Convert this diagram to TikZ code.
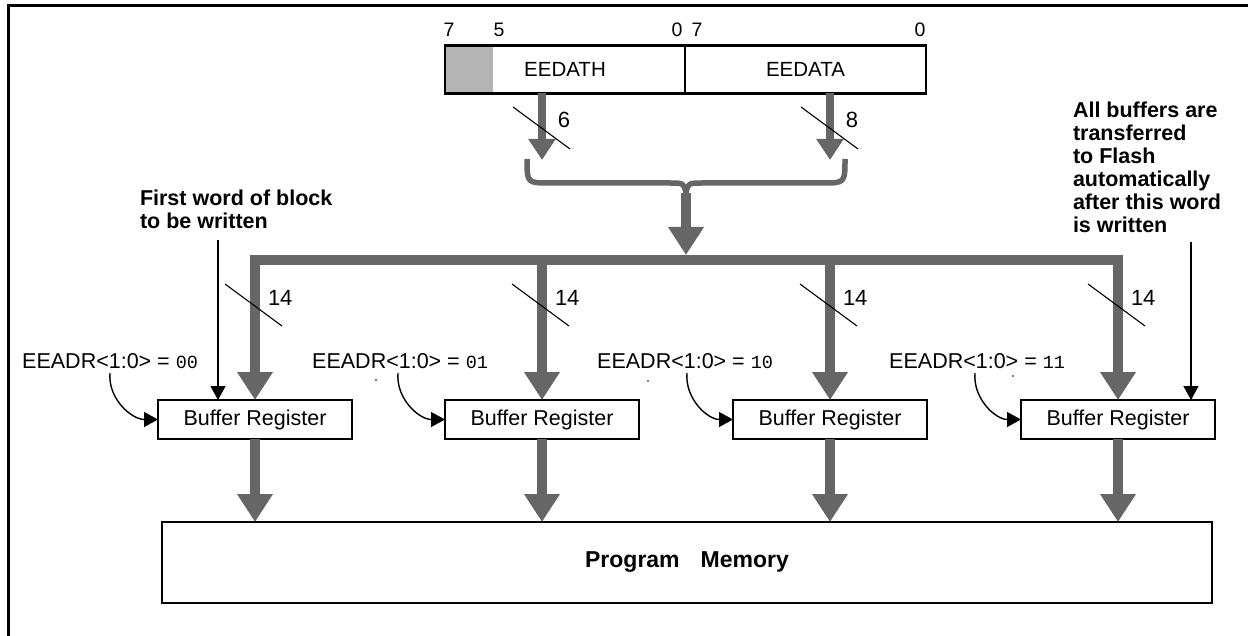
\documentclass[tikz,border=0pt]{standalone}
\usepackage{fontspec}
\setmainfont{Liberation Sans}
\setmonofont{Liberation Mono}
\usetikzlibrary{arrows.meta,calc}
\definecolor{busgray}{RGB}{102,102,102}
\definecolor{fieldgray}{RGB}{180,180,180}
\newcommand\addrbits[1]{{\ttfamily\fontsize{18.5}{21}\selectfont #1}}
\begin{document}
\begin{tikzpicture}[x=1pt, y=-1pt,
  every node/.style={inner sep=0pt, outer sep=0pt},
  regbox/.style={draw, line width=2.6pt, minimum height=47.6pt, font=\fontsize{20.5}{24}\selectfont},
  bufbox/.style={draw, line width=2.6pt, minimum width=194pt, minimum height=39pt, font=\fontsize{21.5}{25}\selectfont},
  pmbox/.style={draw, line width=2.8pt, minimum width=1050pt, minimum height=81pt, font=\bfseries\fontsize{23}{27}\selectfont},
  bitlabel/.style={font=\fontsize{19.5}{23}\selectfont, anchor=base},
  widthlabel/.style={font=\fontsize{22}{26}\selectfont},
  addrlabel/.style={font=\fontsize{21.5}{25}\selectfont, anchor=base east},
  note/.style={font=\bfseries\fontsize{21.5}{23}\selectfont, align=left, anchor=base west},
  bus/.style={draw=busgray, line width=10pt},
  busarrow/.style={draw=busgray, line width=10pt, -{Triangle[width=34pt,length=28pt]}},
  regarrow/.style={draw=busgray, line width=8pt, -{Triangle[width=26pt,length=21pt]}},
  brace/.style={draw=busgray, line width=5.5pt, line cap=butt, line join=round},
  ptr/.style={draw=black, line width=1.4pt, -{Triangle[width=15pt,length=14pt]}},
  tick/.style={draw=black, line width=1.1pt},
]
\useasboundingbox (0,0) rectangle (1248,636);

% outer frame (top and left edges)
\draw[line width=3pt, line join=miter] (1252,5.5) -- (8,5.5) -- (8,640);

% data registers
\fill[fieldgray] (445,45.7) rectangle (493,93.3);
\node[regbox, minimum width=240pt] (eedath) at (565,69.5) {EEDATH};
\node[regbox, minimum width=241pt] (eedata) at (805.5,69.5) {EEDATA};

% bit numbers
\node[bitlabel] (bh7) at (449,37) {7};
\node[bitlabel] (bh5) at (499,37) {5};
\node[bitlabel] (bh0) at (677,37) {0};
\node[bitlabel] (bl7) at (697,37) {7};
\node[bitlabel] (bl0) at (920,37) {0};

% buffer registers and program memory
\node[bufbox] (b1) at (255,419.5) {Buffer Register};
\node[bufbox] (b2) at (542,419.5) {Buffer Register};
\node[bufbox] (b3) at (830,419.5) {Buffer Register};
\node[bufbox] (b4) at (1118,419.5) {Buffer Register};
\node[pmbox] (pm) at (687,562.5) {Program\hspace{21pt}Memory};

% brace joining the two register outputs
\coordinate (bl) at (527,159);
\coordinate (br) at (845,159);
\coordinate (bc) at (686,193);
\draw[brace] (bl) .. controls (527,183) .. (550,183) -- (668,183)
  .. controls (684,183) .. (bc)
  .. controls (688,183) .. (704,183) -- (822,183)
  .. controls (845,183) .. (br);

% register outputs into the brace
\draw[regarrow] (b2.north |- eedath.south) -- ([yshift=-1pt]b2.north |- bl);
\draw[regarrow] (b3.north |- eedata.south) -- ([yshift=-1pt]b3.north |- br);
\draw[tick] (513,107) -- (570,149);
\draw[tick] (801,107) -- (858,149);
\node[widthlabel, anchor=base] (w6) at (564,128) {6};
\node[widthlabel, anchor=base] (w8) at (852,128) {8};

% 14-bit bus
\coordinate (busY) at (0,260);
\draw[busarrow] (bc) -- ([yshift=5pt]bc |- busY);
\draw[bus] ([xshift=-5pt]b1.north |- busY) -- ([xshift=5pt]b4.north |- busY);
\foreach \b in {b1,b2,b3,b4}{
  \draw[busarrow] ([yshift=5pt]\b.north |- busY) -- (\b.north);
  \draw[busarrow] (\b.south) -- (\b.south |- pm.north);
}
\foreach \bx/\nm in {255/t1,542/t2,830/t3,1118/t4}{
  \draw[tick] (\bx-30,284) -- (\bx+27,326);
  \node[widthlabel, anchor=base west] (\nm) at (\bx+13,306) {14};
}

% address selection labels
\node[addrlabel] (a1) at (198,368) {EEADR<1:0> = \addrbits{00}};
\node[addrlabel] (a2) at (488,368) {EEADR<1:0> = \addrbits{01}};
\node[addrlabel] (a3) at (773,368) {EEADR<1:0> = \addrbits{10}};
\node[addrlabel] (a4) at (1065,368) {EEADR<1:0> = \addrbits{11}};
\coordinate (s1) at (110,373);
\coordinate (s2) at (398,373);
\coordinate (s3) at (687,373);
\coordinate (s4) at (975,373);
\draw[ptr] (s1) to[out=-95,in=180] (b1.west);
\draw[ptr] (s2) to[out=-95,in=180] (b2.west);
\draw[ptr] (s3) to[out=-95,in=180] (b3.west);
\draw[ptr] (s4) to[out=-95,in=180] (b4.west);
\fill (376,380) circle (0.9pt);
\fill (648,381) circle (0.9pt);
\fill (1013,376) circle (0.9pt);

% annotations (anchored on the baseline of their last line)
\node[note] (first) at (140,229) {First word of block\\to be written};
\node[note] (last) at (1073,233) {All buffers are\\transferred\\to Flash\\automatically\\after this word\\is written};
\coordinate (n1) at (218,240);
\coordinate (n4) at (1191,242);
\draw[ptr] (n1) -- (n1 |- b1.north);
\draw[ptr] (n4) -- (n4 |- b4.north);
\end{tikzpicture}
\end{document}
